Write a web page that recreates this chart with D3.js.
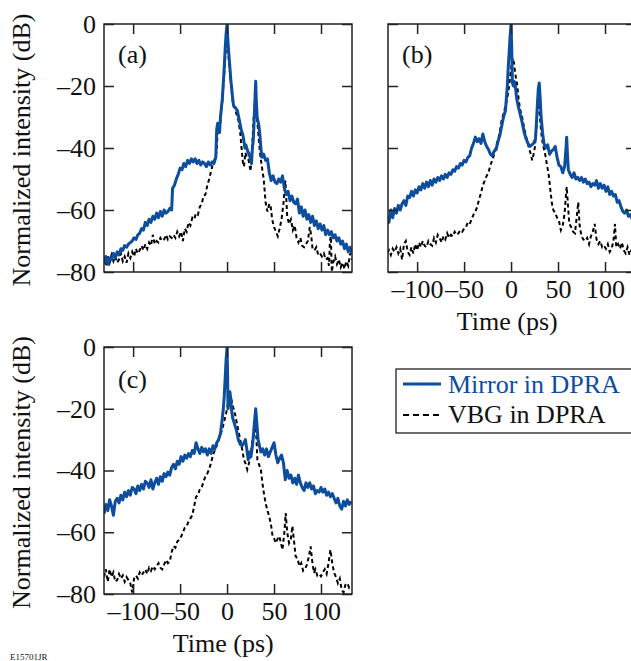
<!DOCTYPE html>
<html lang="en">
<head>
  <meta charset="UTF-8">
  <title>Normalized intensity vs time</title>
  <style>
    body { margin: 0; background: #fff; }
    svg { display: block; font-family: "Liberation Serif", "Times New Roman", serif; }
  </style>
  <script src="https://d3js.org/d3.v7.min.js"></script>
</head>
<body>
<svg width="631" height="661"></svg>
<script>
  // [time (ps), intensity (dB)]
  const mirrorA = [[-131,-77],[-129,-75],[-127,-77.5],[-125,-75.5],[-123,-76],[-121,-74],[-119,-75.5],[-117,-73.5],[-115,-74.5],[-113,-72.5],[-111,-73],[-109,-71.5],[-107,-72],[-105,-71],[-103,-70.5],[-101,-70],[-99,-69],[-97,-69.5],[-95,-68],[-93,-67.5],[-91,-66],[-89,-66.5],[-87,-64],[-85,-65],[-83,-63],[-81,-64],[-79,-62],[-77,-63],[-75,-61],[-73,-62.5],[-71,-60.5],[-69,-62],[-67,-60],[-65,-61],[-63,-60.5],[-61,-59.5],[-59,-60],[-58,-53],[-56,-52],[-54,-50],[-52,-48.5],[-50,-46.5],[-48,-47],[-46,-45],[-44,-46],[-42,-44],[-40,-45],[-38,-43.5],[-36,-44.5],[-34,-43.5],[-32,-45],[-30,-44],[-28,-45.5],[-26,-44.5],[-24,-45],[-22,-46],[-20,-44.5],[-18,-45.5],[-16,-44.5],[-14,-45],[-12,-43],[-11,-34],[-10,-32],[-9,-33],[-8,-35],[-7,-30],[-6,-27],[-5,-24],[-4,-19],[-3,-14],[-2,-8],[-1,-3],[0,0],[1,-6],[2,-10],[3,-14],[4,-18],[5,-21],[6,-24],[7,-26.5],[9,-27],[11,-28],[13,-31],[15,-34],[17,-36],[19,-40],[20,-39],[22,-41],[24,-42.5],[26,-45],[27,-40],[28,-37],[29,-30],[30,-22],[30.5,-18.5],[31,-24],[32,-30],[34,-33],[35,-36],[36,-40],[37,-43],[39,-42],[41,-44],[43,-43.5],[45,-48],[47,-50.5],[49,-49],[51,-51],[53,-51.5],[55,-50],[57,-51],[59,-49],[61,-53],[63,-55],[65,-54],[67,-57],[69,-55.5],[71,-57.5],[73,-58],[75,-56.5],[77,-61],[79,-59],[81,-62],[83,-60],[85,-63],[87,-61.5],[89,-64],[91,-62],[93,-65],[95,-63.5],[97,-66],[99,-64.5],[101,-66.5],[103,-65],[105,-68],[107,-66.5],[109,-68],[111,-67],[113,-69],[115,-68],[117,-70],[119,-69],[121,-71],[123,-70],[125,-72.5],[127,-71],[129,-73.5],[131,-72],[133,-74]];
  const vbgA = [[-131,-76],[-129,-78],[-127,-75],[-125,-77],[-123,-74.5],[-121,-76.5],[-119,-75],[-117,-77],[-115,-76],[-113,-74],[-111,-76.5],[-109,-75],[-107,-77],[-105,-74],[-103,-75.5],[-101,-73.5],[-99,-75],[-97,-72.5],[-95,-74],[-93,-73],[-91,-71.5],[-89,-73],[-87,-71],[-85,-72.5],[-83,-70.5],[-81,-71.5],[-79,-68],[-77,-71],[-75,-70],[-73,-70.5],[-71,-69],[-69,-70],[-67,-69.5],[-65,-68],[-63,-69.5],[-61,-68.5],[-59,-69],[-57,-68],[-55,-69],[-53,-67],[-51,-68.5],[-49,-67],[-47,-70],[-45,-66],[-43,-67],[-41,-64],[-39,-65],[-37,-62.5],[-35,-63],[-33,-61],[-31,-61.5],[-29,-59],[-27,-58],[-25,-55.5],[-23,-55],[-21,-52],[-19,-50],[-17,-47.5],[-15,-45],[-13,-43.5],[-11,-41],[-10,-34],[-9,-33.5],[-8,-35],[-7,-31],[-6,-28],[-5,-25],[-4,-20],[-3,-16],[-2,-11],[-1,-7],[0,-5.5],[1,-8],[2,-12],[3,-15],[4,-19],[5,-22],[6,-25],[8,-27],[10,-29],[12,-31],[14,-35],[16,-42],[17,-45],[18,-46],[19.5,-41.5],[21,-43],[23,-44],[25,-47.5],[26,-43],[27,-38],[28.5,-29],[30,-24],[31,-27],[32,-31],[33.5,-36],[35,-41.5],[37,-46],[39,-50],[41,-57.5],[43,-60.5],[45,-58],[46.5,-59],[48,-63],[50,-65.5],[52,-67],[54,-68.5],[56,-66],[58,-63],[60,-58],[62,-50.5],[63,-56],[64,-62],[66,-64.5],[68,-63],[70,-66.5],[72,-65],[74,-69],[76,-70.5],[78,-69],[80,-71.5],[82,-72],[84,-71],[86,-70],[88,-65.5],[89.5,-68],[91,-72.5],[93,-73],[95,-72],[97,-74.5],[99,-74],[101,-75],[103,-74],[105,-76],[107,-75.5],[108.5,-78],[109.5,-70],[110.5,-68.5],[111.5,-80],[113,-77],[115,-75],[117,-77.5],[119,-76],[121,-78.5],[123,-77],[125,-79],[127,-76.5],[129,-78],[131,-74],[133,-76]];

  const mirrorB = [[-132,-62],[-130,-64],[-128,-60],[-126,-62.5],[-124,-59.5],[-122,-61],[-120,-58.5],[-118,-60],[-116,-58],[-114,-57],[-112,-58.5],[-110,-55.5],[-108,-56],[-106,-54],[-104,-55.5],[-102,-53.5],[-100,-54.5],[-98,-52.5],[-96,-53.5],[-94,-51.5],[-92,-53],[-90,-51],[-88,-52.5],[-86,-50.5],[-84,-52],[-82,-50],[-80,-51],[-78,-49.5],[-76,-50.5],[-74,-49],[-72,-50],[-70,-48.5],[-68,-49.5],[-66,-48],[-64,-48.5],[-62,-47],[-60,-47.5],[-58,-46],[-56,-46.5],[-54,-45],[-52,-45.5],[-50,-44],[-48,-44.5],[-46,-43],[-44,-42.5],[-42,-40],[-40,-38.5],[-38,-36.5],[-36,-38],[-34,-37],[-32,-38.5],[-30,-35.5],[-28,-38],[-26,-39.5],[-24,-40.5],[-22,-42],[-20,-42.5],[-18,-41],[-16,-40.5],[-14,-38],[-12,-36],[-10,-33],[-8,-30],[-6,-28],[-5,-24],[-4,-20],[-3,-14],[-2,-9],[-1,-4],[0,0],[0.7,-8],[1.4,-19],[2.5,-20],[3.5,-18.5],[4.5,-20],[6,-24],[8,-27],[10,-29.5],[12,-32],[14,-35],[16,-37],[18,-38.5],[20,-39.5],[22,-39],[24,-38.5],[26,-37],[27,-32],[28,-26],[29,-21],[30,-19],[31,-24],[32,-30],[33.5,-35],[35,-38.5],[37,-40],[39,-39],[41,-42],[43,-41],[45,-40.5],[47,-39.5],[49,-43],[51,-45.5],[53,-46],[55,-48],[57,-46],[58.5,-40],[59.2,-36.5],[60,-42],[61,-47],[63,-48.5],[65,-49.5],[67,-48],[69,-50],[71,-49.5],[73,-50.5],[75,-49.5],[77,-51],[79,-50],[81,-51.5],[83,-51],[85,-52.5],[87,-51.5],[89,-52],[91,-50.5],[93,-53],[95,-51.5],[97,-53],[99,-52],[101,-54],[103,-52.5],[105,-55],[107,-54],[109,-55.5],[111,-55],[113,-57.5],[115,-57],[117,-59],[119,-60.5],[121,-61],[123,-60],[125,-62],[127,-61.5],[129,-63],[131,-62.5],[133,-63.5]];
  const vbgB = [[-132,-74],[-130,-73],[-128,-74.5],[-126,-72.5],[-124,-73.5],[-122,-72],[-120,-74],[-118,-72.5],[-116,-76],[-114,-71],[-112,-70],[-110,-73.5],[-108,-74.5],[-106,-72],[-104,-74],[-102,-71],[-100,-73],[-98,-70.5],[-96,-72],[-94,-70],[-92,-71.5],[-90,-72],[-88,-70],[-86,-71],[-84,-71.5],[-82,-69],[-80,-70.5],[-78,-68],[-76,-69],[-74,-70.5],[-72,-68.5],[-70,-69.5],[-68,-67.5],[-66,-69],[-64,-68],[-62,-68.5],[-60,-67],[-58,-68],[-56,-67.5],[-54,-66.5],[-52,-67],[-50,-66],[-48,-65.5],[-46,-64],[-44,-64.5],[-42,-63],[-40,-61.5],[-38,-60.5],[-36,-59],[-34,-56.5],[-32,-54.5],[-30,-52],[-28,-50.5],[-26,-49],[-24,-48],[-22,-45.5],[-20,-44],[-18,-42],[-16,-39.5],[-14,-37.5],[-12,-35],[-10,-31],[-8,-29],[-6,-26.5],[-4,-24],[-2,-20],[-1,-17],[0,-14.5],[1,-12],[2,-11],[3,-12.5],[4,-15],[5,-17],[6,-18.5],[7,-21],[8,-24],[9.5,-27.5],[11,-29],[13,-32],[15,-35],[17,-37.5],[19,-40],[21,-42],[22.5,-44],[24,-42],[25.5,-39.5],[27,-33],[28,-28],[29,-25.5],[30,-27],[31,-31],[32.5,-36],[34,-39],[36,-41.5],[38,-45],[40,-48.5],[42,-54],[43.5,-58],[45,-60],[47,-61],[49,-62.5],[51,-63.5],[53,-66.5],[55,-65],[57,-61],[58.5,-55],[59.2,-52.5],[60.5,-58],[62,-64.5],[64,-65.5],[66,-67],[68,-67.5],[70,-62],[71.5,-57.5],[73,-65],[75,-68.5],[77,-69.5],[79,-70],[81,-69],[83,-71],[85,-68.5],[87,-67],[89,-64.5],[91,-69.5],[93,-71],[95,-70],[97,-72],[99,-71.5],[101,-72.5],[103,-71],[105,-73.5],[107,-72.5],[109,-70],[110.6,-64.5],[112,-72],[114,-71],[116,-72.5],[118,-70.5],[120,-73],[122,-74],[124,-72],[126,-74.5],[128,-73],[130,-75],[132,-74]];

  const mirrorC = [[-131,-54],[-129,-51],[-127,-53],[-125,-49.5],[-123,-51.5],[-121,-54.5],[-119,-50],[-117,-49],[-115,-50.5],[-113,-48],[-111,-49.5],[-109,-47],[-107,-48.5],[-105,-46.5],[-103,-48],[-101,-45.5],[-99,-46],[-97,-47.5],[-95,-45],[-93,-46.5],[-91,-44.5],[-89,-46],[-87,-43.5],[-85,-44],[-83,-45.5],[-81,-43],[-79,-46],[-77,-44],[-75,-42.5],[-73,-44.5],[-71,-42],[-69,-43.5],[-67,-41],[-65,-42],[-63,-40.5],[-61,-41.5],[-59,-39],[-57,-38],[-55,-39.5],[-53,-37],[-51,-38],[-49,-35.5],[-47,-37],[-45,-35],[-43,-36],[-41,-34.5],[-39,-35.5],[-37,-33.5],[-35,-34.5],[-33,-31],[-31,-33],[-29,-34.5],[-27,-32.5],[-25,-34],[-23,-33],[-21,-35],[-19,-33],[-17,-34.5],[-15,-32],[-13,-33],[-11,-31],[-9,-30],[-7,-28],[-6,-25.5],[-5,-23],[-4,-20],[-3,-16],[-2,-10],[-1,-4],[0,0],[0.5,-8],[1,-20],[2,-17],[3,-14.5],[4,-17],[5,-21],[6,-23],[8,-25],[10,-27],[12,-30],[14,-31.5],[16,-32],[18,-31],[19.5,-30],[21,-33],[22.5,-36.5],[24,-34],[25.5,-35.5],[27,-32],[28,-29],[29,-25],[30.5,-20],[32,-26],[33,-30],[34.5,-32],[36,-34],[38,-33],[40,-35],[42,-33],[44,-35.5],[46,-34],[48,-32.5],[50,-31],[52,-35],[54,-37.5],[56,-36],[58,-35],[60,-37.5],[62,-43],[64,-40],[66,-42.5],[68,-41.5],[70,-44],[72,-42.5],[74,-44.5],[76,-41.5],[78,-44],[80,-45.5],[82,-46.5],[84,-44],[86,-45.5],[88,-44],[90,-46],[92,-45],[94,-47.5],[96,-46.5],[98,-47],[100,-45.5],[102,-47],[104,-46],[106,-48],[108,-47],[110,-48.5],[112,-47.5],[114,-49],[116,-50.5],[118,-49],[120,-51.5],[122,-52.5],[124,-50],[126,-51.5],[128,-49.5],[130,-51],[132,-50]];
  const vbgC = [[-131,-74.5],[-129,-72],[-127,-76],[-125,-72],[-123,-74.5],[-121,-73],[-119,-76],[-117,-75.5],[-115,-73.5],[-113,-75],[-111,-74],[-109,-76],[-107,-74.5],[-105,-75.5],[-103,-76.5],[-101,-79.5],[-99,-75],[-97,-74],[-95,-75],[-93,-73],[-91,-74],[-89,-73],[-87,-72],[-85,-73.5],[-83,-71.5],[-81,-72.5],[-79,-71],[-77,-72],[-75,-71],[-73,-70],[-71,-71.5],[-69,-72],[-67,-70.5],[-65,-69],[-63,-70],[-61,-69.5],[-59,-66.5],[-57,-64.5],[-55,-65],[-53,-63],[-51,-62.5],[-49,-61.5],[-47,-60],[-45,-58.5],[-43,-58],[-41,-56.5],[-39,-55.5],[-37,-54.5],[-35,-51.5],[-33,-48.5],[-31,-48],[-29,-46],[-27,-45.5],[-25,-43.5],[-23,-42],[-21,-41],[-19,-39.5],[-17,-37.5],[-15,-35],[-13,-33.5],[-11,-32],[-9,-30],[-7,-28.5],[-5,-26.5],[-3,-24],[-1,-21.5],[0.5,-19],[2,-17],[3.5,-16],[5,-17.5],[6.5,-19.5],[8,-21],[10,-24],[12,-27],[14,-30],[16,-33],[18,-36.5],[20,-38],[21.5,-39.7],[23,-38],[25,-35.5],[27,-30],[28.5,-26.8],[30,-24.5],[31,-28],[32.3,-36.5],[34,-38],[36,-39.7],[37.6,-44],[39,-47],[41,-50.5],[43,-53],[45,-55],[47,-58],[48.5,-61.3],[50,-62],[52,-63.5],[54,-62],[55.5,-61.3],[57,-63],[59,-65.7],[61,-60],[62.4,-53.8],[64,-60],[66,-63.5],[68,-62],[69.5,-58],[71,-62],[73,-67.8],[75,-68.5],[77,-71],[79,-70],[81,-72.5],[83,-72],[85,-70.5],[87,-68],[89,-64.6],[90.5,-69],[92.5,-73.2],[94,-72],[96,-74],[98,-73.5],[100,-74.3],[102,-73],[104,-72],[106,-73.5],[108,-70],[110,-65.7],[112,-70],[114,-73.2],[116,-74.5],[118,-76.5],[120,-75],[122,-78.6],[124,-79.5],[126,-77],[128,-76.5],[130,-78],[132,-77.5]];

  const timeTicks = [-100, -50, 0, 50, 100];
  const dbTicks = [0, -20, -40, -60, -80];
  const seriesNames = ["Mirror in DPRA", "VBG in DPRA"];
  const blue = "#0d4d9d";

  const svg = d3.select("svg");
  const fmt = d => d < 0 ? "\u2013" + Math.abs(d) : String(d);

  const panels = [
    { id: "a", left: 104, top: 24, h: 248, mirror: mirrorA, vbg: vbgA, yLabels: true, xLabels: false },
    { id: "b", left: 388, top: 24, h: 248, mirror: mirrorB, vbg: vbgB, yLabels: false, xLabels: true },
    { id: "c", left: 104, top: 347, h: 247, mirror: mirrorC, vbg: vbgC, yLabels: true, xLabels: true }
  ];
  const w = 248;

  panels.forEach(p => {
    const x = d3.scaleLinear().domain([-131, 133]).range([0, w]);
    const y = d3.scaleLinear().domain([-80, 0]).range([p.h, 0]);
    const g = svg.append("g").attr("transform", `translate(${p.left},${p.top})`);

    g.append("clipPath").attr("id", "clip-" + p.id)
      .append("rect").attr("width", w).attr("height", p.h);

    const line = d3.line().x(d => x(d[0])).y(d => y(d[1]));
    const plot = g.append("g").attr("clip-path", `url(#clip-${p.id})`);
    plot.append("path").datum(p.vbg)
      .attr("fill", "none").attr("stroke", "#000")
      .attr("stroke-width", 2).attr("stroke-dasharray", "4,3")
      .attr("d", line);
    plot.append("path").datum(p.mirror)
      .attr("fill", "none").attr("stroke", blue)
      .attr("stroke-width", 3).attr("stroke-linejoin", "round")
      .attr("d", line);

    // inward ticks on all four sides
    const axes = [
      { ax: d3.axisLeft(y).tickValues(dbTicks), tr: "", labels: p.yLabels },
      { ax: d3.axisRight(y).tickValues(dbTicks), tr: `translate(${w},0)`, labels: false },
      { ax: d3.axisTop(x).tickValues(timeTicks), tr: "", labels: false },
      { ax: d3.axisBottom(x).tickValues(timeTicks), tr: `translate(0,${p.h})`, labels: p.xLabels }
    ];
    axes.forEach(a => {
      const ag = g.append("g").attr("transform", a.tr)
        .call(a.ax.tickSize(-10).tickPadding(8).tickFormat(a.labels ? fmt : ""));
      ag.select(".domain").remove();
      ag.selectAll("line").attr("stroke", "#222").attr("stroke-width", 1.5);
      ag.selectAll("text").attr("font-size", 26).attr("font-family", "Liberation Serif, serif").attr("fill", "#111");
    });

    g.append("rect").attr("width", w).attr("height", p.h)
      .attr("fill", "none").attr("stroke", "#222").attr("stroke-width", 1.5);

    g.append("text").attr("x", 14).attr("y", p.id === "c" ? 41 : 39)
      .attr("font-size", 26).attr("fill", "#111").text(`(${p.id})`);

    if (p.yLabels) {
      g.append("text")
        .attr("transform", `translate(-74,${p.h / 2 + 2}) rotate(-90)`)
        .attr("text-anchor", "middle").attr("font-size", 26).attr("fill", "#111")
        .text("Normalized intensity (dB)");
    }
    if (p.xLabels) {
      g.append("text").attr("x", x(-4)).attr("y", p.h + 58)
        .attr("text-anchor", "middle").attr("font-size", 26).attr("fill", "#111")
        .text("Time (ps)");
    }
  });

  // legend
  const lg = svg.append("g").attr("transform", "translate(396,369)");
  lg.append("rect").attr("width", 245).attr("height", 64)
    .attr("fill", "#fff").attr("stroke", "#222").attr("stroke-width", 1.3);
  lg.append("line").attr("x1", 7).attr("x2", 45).attr("y1", 15).attr("y2", 15)
    .attr("stroke", blue).attr("stroke-width", 3);
  lg.append("line").attr("x1", 7).attr("x2", 45).attr("y1", 46).attr("y2", 46)
    .attr("stroke", "#000").attr("stroke-width", 2).attr("stroke-dasharray", "6,4");
  lg.append("text").attr("x", 52).attr("y", 24).attr("font-size", 26).attr("fill", blue).text(seriesNames[0]);
  lg.append("text").attr("x", 52).attr("y", 54).attr("font-size", 26).attr("fill", "#111").text(seriesNames[1]);

  svg.append("text").attr("x", 10).attr("y", 660).attr("font-size", 9).attr("fill", "#111").text("E15701JR");
</script>
</body>
</html>
